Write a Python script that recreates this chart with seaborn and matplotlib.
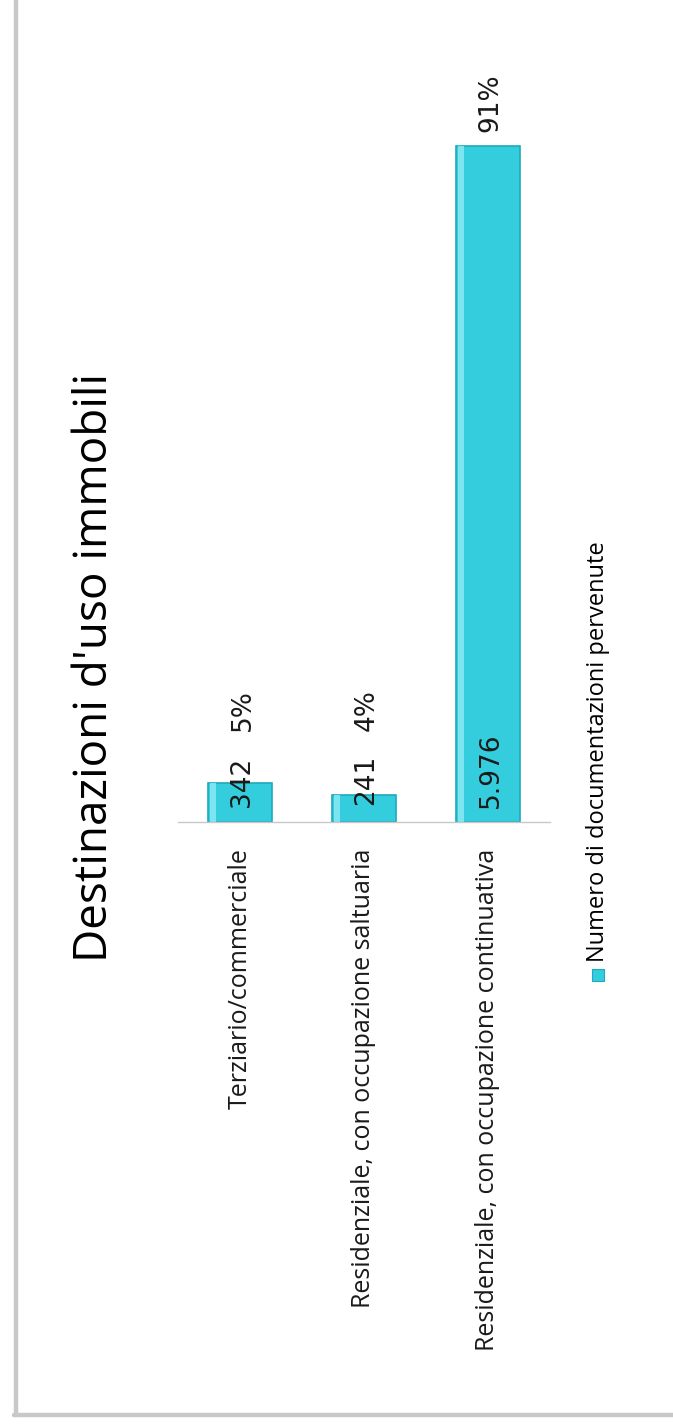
import matplotlib
matplotlib.use("Agg")
import matplotlib.pyplot as plt
import seaborn as sns
import pandas as pd
from matplotlib.patches import Rectangle
from matplotlib.lines import Line2D

# ---- data ----
categories = ["Terziario/commerciale",
              "Residenziale, con occupazione saltuaria",
              "Residenziale, con occupazione continuativa"]
values = [342, 241, 5976]
value_labels = ["342", "241", "5.976"]
pct_labels = ["5%", "4%", "91%"]
title = "Destinazioni d'uso immobili"
legend_label = "Numero di documentazioni pervenute"

sns.set_theme(style="white")
plt.rcParams['font.family'] = ['Open Sans', 'DejaVu Sans']

W, H = 673, 1424
fig = plt.figure(figsize=(W / 100, H / 100), dpi=100)
fig.patch.set_facecolor("white")

# axes placed in pixel terms (rotated chart: bars grow upward)
x0, x1 = 178, 550
ybase, ytop = 822, 60
ax = fig.add_axes([x0 / W, (H - ybase) / H, (x1 - x0) / W, (ybase - ytop) / H])

df = pd.DataFrame({"cat": categories, "val": values})
bar_color = "#33CDDE"
sns.barplot(data=df, x="cat", y="val", color=bar_color, width=0.52,
            edgecolor="#1FA9BA", linewidth=1.2, saturation=1, ax=ax)
# light bevel highlight
sns.barplot(data=df, x="cat", y="val", color="#8AEAF3", width=0.05,
            saturation=1, ax=ax, linewidth=0)
for p in ax.patches[3:]:
    p.set_x(p.get_x() - 0.215)
    p.set_alpha(0.85)

ax.set_xlim(-0.5, 2.5)
scale = (ybase - 146) / 5976.0
ax.set_ylim(0, (ybase - ytop) / scale)
ax.set_xlabel("")
ax.set_ylabel("")
ax.set_yticks([])
for s in ["top", "right", "left"]:
    ax.spines[s].set_visible(False)
ax.spines["bottom"].set_color("#c8c8c8")
ax.spines["bottom"].set_linewidth(1.0)
ax.tick_params(axis="x", length=0, pad=19)
ax.set_xticks(range(len(categories)))
ax.set_xticklabels(categories, rotation=90, fontsize=18, color="#1a1a1a")

# value labels
val_y = [354, 371, 460]
pct_y = [990, 990, 6356]
for i in range(len(values)):
    ax.text(i + 0.02, val_y[i], value_labels[i], rotation=90, ha="center",
            va="center", fontsize=19, family="DejaVu Sans", color="#1a1a1a")
    ax.text(i + 0.02, pct_y[i], pct_labels[i], rotation=90, ha="center",
            va="center", fontsize=19, family="DejaVu Sans", color="#1a1a1a")

# title
fig.text(95 / W, 1 - 667 / H, title, rotation=90, ha="center", va="center",
         fontsize=33, color="#000000")

# legend (rotated)
fig.patches.append(Rectangle(((598 - 6) / W, 1 - (975 + 6) / H), 12 / W, 12 / H,
                             transform=fig.transFigure, facecolor=bar_color,
                             edgecolor="#1FA9BA", linewidth=0.8))
fig.text(598 / W, 1 - 962 / H, legend_label, rotation=90, ha="center",
         va="bottom", fontsize=17, color="#000000")

# outer frame (left and bottom)
fig.lines.append(Line2D([16 / W, 16 / W], [1, 1 - 1415 / H], transform=fig.transFigure,
                        color="#c8c8c8", linewidth=3.2))
fig.lines.append(Line2D([14 / W, 1], [1 - 1415 / H, 1 - 1415 / H], transform=fig.transFigure,
                        color="#c8c8c8", linewidth=3.2))

fig.savefig("out.png", dpi=100, facecolor="white")
